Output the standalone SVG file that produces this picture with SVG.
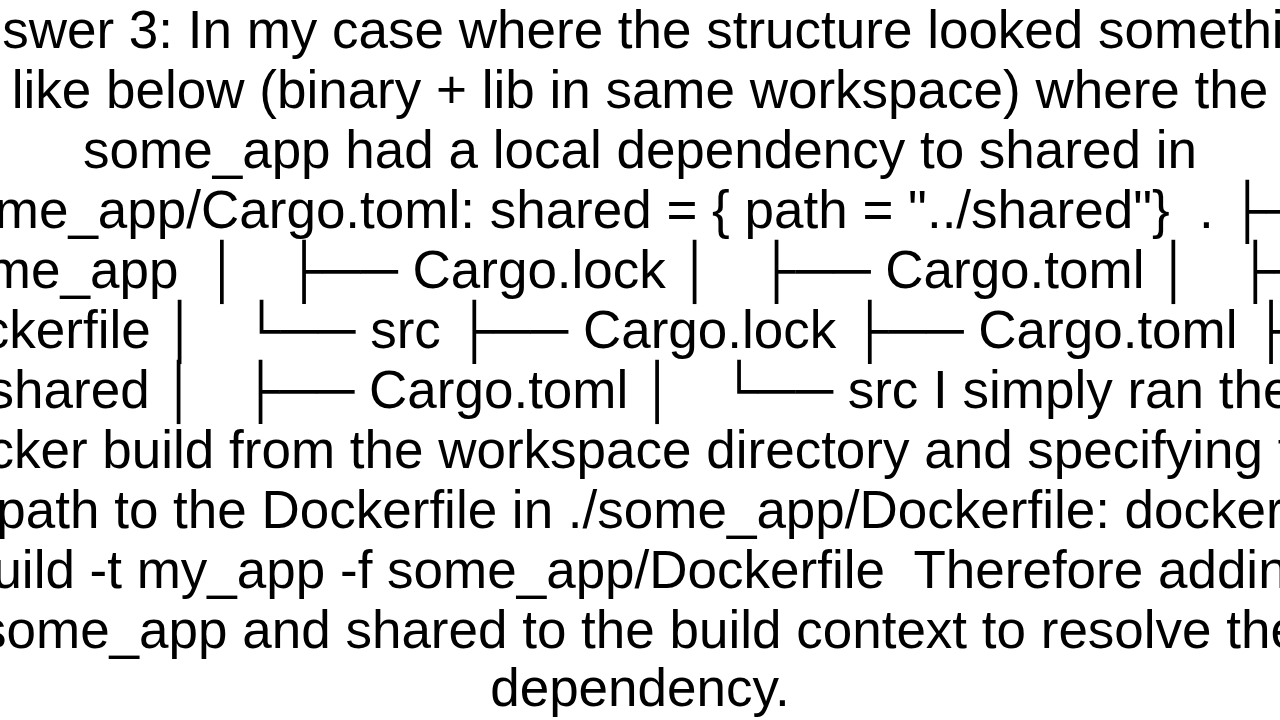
<svg xmlns="http://www.w3.org/2000/svg" width="1280" height="720" viewBox="0 0 1280 720">
<style>text{font-family:"Liberation Sans",Arial,"DejaVu Sans",sans-serif;font-size:53px;fill:#000;text-anchor:middle;white-space:pre}</style>
<rect width="1280" height="720" fill="#fff"/>
<text x="640" y="48">Answer 3: In my case where the structure looked something</text>
<text x="640" y="108">like below (binary + lib in same workspace) where the</text>
<text x="640" y="168">some_app had a local dependency to shared in</text>
<text x="640" y="228">some_app/Cargo.toml: shared = { path = "../shared"}  . ├──</text>
<text x="640" y="288">some_app  │   ├── Cargo.lock │   ├── Cargo.toml │   ├──</text>
<text x="640" y="348">Dockerfile │   └── src ├── Cargo.lock ├── Cargo.toml ├──</text>
<text x="640" y="408">shared │   ├── Cargo.toml │   └── src I simply ran the</text>
<text x="640" y="468">docker build from the workspace directory and specifying the</text>
<text x="640" y="528">path to the Dockerfile in ./some_app/Dockerfile: docker</text>
<text x="640" y="588">build -t my_app -f some_app/Dockerfile  Therefore adding</text>
<text x="640" y="648">some_app and shared to the build context to resolve the</text>
<text x="640" y="706">dependency.</text>
</svg>
